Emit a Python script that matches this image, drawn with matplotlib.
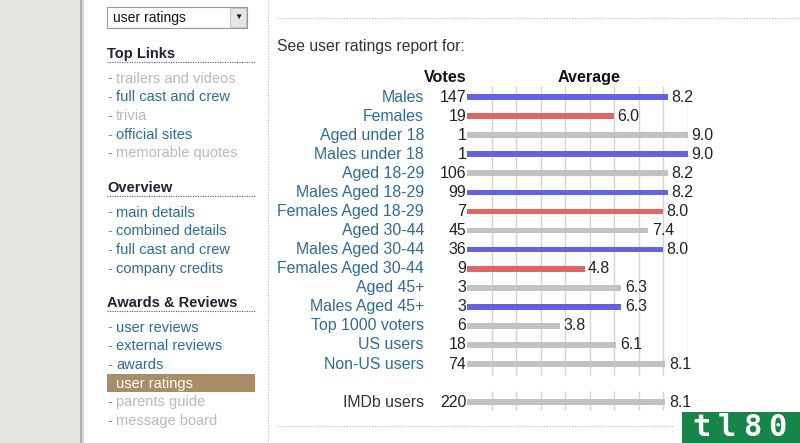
import matplotlib
matplotlib.use("Agg")
import matplotlib.pyplot as plt
from matplotlib.patches import Rectangle

plt.rcParams['font.family'] = ['Liberation Sans', 'DejaVu Sans']

# ratings breakdown
groups = ["Males", "Females", "Aged under 18", "Males under 18", "Aged 18-29",
          "Males Aged 18-29", "Females Aged 18-29", "Aged 30-44", "Males Aged 30-44",
          "Females Aged 30-44", "Aged 45+", "Males Aged 45+", "Top 1000 voters",
          "US users", "Non-US users"]
votes = [147, 19, 1, 1, 106, 99, 7, 45, 36, 9, 3, 3, 6, 18, 74]
averages = [8.2, 6.0, 9.0, 9.0, 8.2, 8.2, 8.0, 7.4, 8.0, 4.8, 6.3, 6.3, 3.8, 6.1, 8.1]
kinds = ["m", "f", "a", "m", "a", "m", "f", "a", "m", "f", "a", "m", "a", "a", "a"]
total_label = "IMDb users"
total_votes = 220
total_avg = 8.1

colors = {"m": "#6363e0", "f": "#e06666", "a": "#c2c2c2"}
LINK = "#2f6a9c"
GREY = "#b9b9b9"
DARK = "#222233"
FS = 11.4

fig = plt.figure(figsize=(8, 4.43), dpi=100)

# page background in pixel coords
bg = fig.add_axes([0, 0, 1, 1])
bg.set_xlim(0, 800)
bg.set_ylim(443, 0)
bg.axis("off")
bg.add_patch(Rectangle((0, 0), 80, 443, color="#e3e3df", lw=0))
bg.add_patch(Rectangle((80, 0), 2, 443, color="#b0b0ac", lw=0))
bg.add_patch(Rectangle((82, 0), 2, 443, color="#d4d4d0", lw=0))
bg.plot([268, 268], [0, 443], color="#bbbbbb", lw=0.8, ls=(0, (1, 1.5)))

# dropdown
bg.add_patch(Rectangle((107, 7), 140, 21, facecolor="white", edgecolor="#999999", lw=0.8))
bg.add_patch(Rectangle((230, 8), 16, 19, facecolor="#e6e6e6", edgecolor="#bbbbbb", lw=0.6))
bg.text(113, 18, "user ratings", fontsize=10, color="#111111", va="center")
bg.text(238, 17.5, "\u25bc", fontsize=6, color="#111111", va="center", ha="center")

sections = [
    ("Top Links", 52, [("trailers and videos", GREY), ("full cast and crew", LINK),
                       ("trivia", GREY), ("official sites", LINK),
                       ("memorable quotes", GREY)], 77),
    ("Overview", 186, [("main details", LINK), ("combined details", LINK),
                       ("full cast and crew", LINK), ("company credits", LINK)], 211),
    ("Awards & Reviews", 301, [("user reviews", LINK), ("external reviews", LINK),
                               ("awards", LINK), ("user ratings", "sel"),
                               ("parents guide", GREY), ("message board", GREY)], 326),
]
for title, ty, items, y0 in sections:
    bg.text(107, ty + 2, title, fontsize=10.5, fontweight="bold", color=DARK, va="center")
    bg.plot([107, 255], [ty + 10, ty + 10], color="#555555", lw=0.8,
            ls=(0, (1, 1.2)))
    for k, (name, col) in enumerate(items):
        y = y0 + k * 18.7
        if col == "sel":
            bg.add_patch(Rectangle((107, y - 8), 148, 18, color="#a88d68", lw=0))
            bg.text(116, y + 1.5, name, fontsize=10.5, color="white", va="center")
        else:
            bg.text(107, y + 1.5, "-", fontsize=10.5, color="#888888", va="center")
            bg.text(116, y + 1.5, name, fontsize=10.5, color=col, va="center")

bg.plot([277, 800], [18, 18], color="#bbbbbb", lw=0.8, ls=(0, (1, 1.5)))
bg.plot([277, 674], [426, 426], color="#bbbbbb", lw=0.8, ls=(0, (1, 1.5)))
bg.text(277, 46.5, "See user ratings report for:", fontsize=11.3, color="#333333",
        va="center")

# tl80 badge
bg.add_patch(Rectangle((682, 412), 118, 31, color="#17844a", lw=0))
for i, ch in enumerate("tl80"):
    bg.text(702 + i * 25, 442, ch, fontsize=22, fontweight="bold", color="white",
            ha="center", va="bottom", family="DejaVu Sans Mono")

# chart
ax = fig.add_axes([467 / 800, 1 - 440.3 / 443, 220.5 / 800, 381.4 / 443])
ax.set_xlim(0, 9)
ax.set_ylim(18, -2)
ax.axis("off")
ax.patch.set_alpha(0)

n = len(groups)
rows = list(range(n))
total_row = n + 1

grid_x = list(range(1, 10))
ax.vlines(grid_x, -0.6, n - 0.4, color="#d3d3d3", lw=1, zorder=1)
ax.vlines(grid_x, total_row - 0.6, total_row + 0.4, color="#d3d3d3", lw=1, zorder=1)

ax.barh(rows, averages, height=0.3, color=[colors[k] for k in kinds], zorder=2)
ax.barh([total_row], [total_avg], height=0.3, color=colors["a"], zorder=2)

all_rows = rows + [total_row]
all_votes = votes + [total_votes]
all_avgs = averages + [total_avg]
all_labels = groups + [total_label]
for r, v, a, lab in zip(all_rows, all_votes, all_avgs, all_labels):
    ax.annotate(str(v), (0, r), xytext=(-0.5, 0), textcoords="offset points",
                ha="right", va="center", fontsize=FS, color="#222222")
    ax.annotate(f"{a:.1f}", (a, r), xytext=(2.5, 0), textcoords="offset points",
                ha="left", va="center", fontsize=FS, color="#222222")
    ax.annotate(lab, (0, r), xytext=(-31, 0), textcoords="offset points",
                ha="right", va="center", fontsize=FS,
                color="#333333" if r == total_row else LINK)

ax.annotate("Votes", (0, -1), xytext=(0, 0), textcoords="offset points",
            ha="right", va="center", fontsize=11.6, fontweight="bold", color="#111111")
ax.text(5, -1, "Average", ha="center", va="center", fontsize=11.6,
        fontweight="bold", color="#111111")

fig.savefig("out.png", dpi=100)
